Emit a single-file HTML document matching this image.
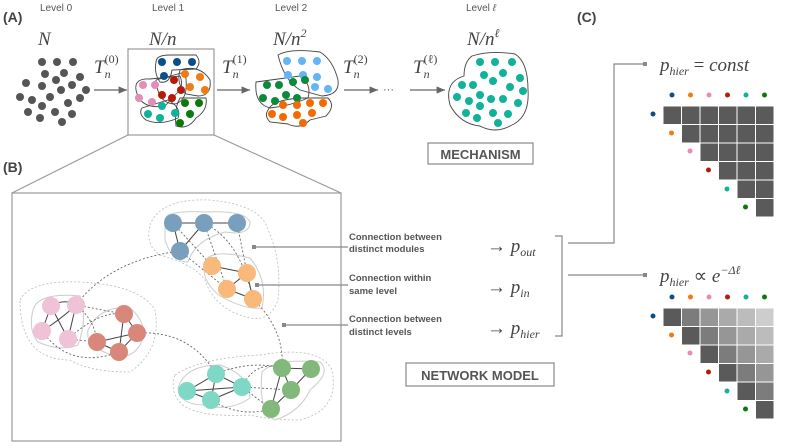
<!DOCTYPE html>
<html><head><meta charset="utf-8"><style>
html,body{margin:0;padding:0;background:#fff;}
svg{display:block;}
.lv{font-family:"Liberation Sans",sans-serif;font-size:10px;fill:#555;}
.hd{font-family:"Liberation Sans",sans-serif;font-size:14px;font-weight:bold;fill:#444;}
.m{font-family:"Liberation Serif",serif;font-style:italic;fill:#444;}
.lb{font-family:"Liberation Sans",sans-serif;font-size:9.5px;font-weight:bold;fill:#555;}
.bx{font-family:"Liberation Sans",sans-serif;font-size:13px;font-weight:bold;fill:#555;}
</style></head><body>
<svg width="793" height="446" viewBox="0 0 793 446" xmlns="http://www.w3.org/2000/svg">
<defs><marker id="ar" markerWidth="8" markerHeight="8" refX="7" refY="4" orient="auto"><path d="M0,1 L7,4 L0,7z" fill="#666"/></marker></defs>
<text x="3" y="22" class="hd">(A)</text>
<text x="40" y="11" class="lv">Level 0</text>
<text x="152" y="11" class="lv">Level 1</text>
<text x="275" y="11" class="lv">Level 2</text>
<text x="466" y="11" class="lv">Level <tspan font-style="italic">ℓ</tspan></text>
<text x="38" y="45" class="m" font-size="19">N</text>
<text x="149" y="45" class="m" font-size="19">N/n</text>
<text x="273" y="45" class="m" font-size="19">N/n<tspan dy="-8" font-size="12">2</tspan></text>
<text x="467" y="45" class="m" font-size="19">N/n<tspan dy="-8" font-size="12">ℓ</tspan></text>
<g class="m" font-size="19">
<text x="94" y="73">T<tspan dy="5" font-size="12">n</tspan><tspan dx="-6" dy="-15" font-size="12" font-style="normal">(0)</tspan></text>
<text x="222" y="73">T<tspan dy="5" font-size="12">n</tspan><tspan dx="-6" dy="-15" font-size="12" font-style="normal">(1)</tspan></text>
<text x="343" y="73">T<tspan dy="5" font-size="12">n</tspan><tspan dx="-6" dy="-15" font-size="12" font-style="normal">(2)</tspan></text>
<text x="413" y="73">T<tspan dy="5" font-size="12">n</tspan><tspan dx="-6" dy="-15" font-size="12" font-style="normal">(ℓ)</tspan></text>
</g>
<g fill="#555">
<circle cx="42" cy="62" r="4"/><circle cx="57" cy="62" r="4"/><circle cx="73" cy="62" r="4"/>
<circle cx="45" cy="74" r="4"/><circle cx="64" cy="73" r="4"/><circle cx="80" cy="77" r="4"/>
<circle cx="56" cy="80" r="4"/><circle cx="72" cy="85" r="4"/><circle cx="86" cy="90" r="4"/>
<circle cx="26" cy="83" r="4"/><circle cx="42" cy="86" r="4"/><circle cx="61" cy="90" r="4"/>
<circle cx="20" cy="97" r="4"/><circle cx="32" cy="100" r="4"/><circle cx="50" cy="97" r="4"/>
<circle cx="68" cy="103" r="4"/><circle cx="80" cy="98" r="4"/><circle cx="42" cy="106" r="4"/>
<circle cx="28" cy="112" r="4"/><circle cx="55" cy="112" r="4"/><circle cx="40" cy="118" r="4"/>
<circle cx="72" cy="114" r="4"/><circle cx="62" cy="122" r="4"/>
</g>
<line x1="94" y1="90" x2="127" y2="90" stroke="#666" stroke-width="1.2" marker-end="url(#ar)"/>
<line x1="217" y1="90" x2="250" y2="90" stroke="#666" stroke-width="1.2" marker-end="url(#ar)"/>
<line x1="344" y1="90" x2="378" y2="90" stroke="#666" stroke-width="1.2" marker-end="url(#ar)"/>
<text x="383" y="93" font-family="Liberation Sans" font-size="11" fill="#555">···</text>
<line x1="410" y1="90" x2="445" y2="90" stroke="#666" stroke-width="1.2" marker-end="url(#ar)"/>
<rect x="128" y="49" width="86" height="86" fill="none" stroke="#999" stroke-width="1.2"/>
<g fill="none" stroke="#444" stroke-width="0.9">
<path d="M156,62 Q156,55 170,55 L196,55 Q202,62 196,69 L172,70 Q170,84 160,82 Q154,74 156,62z"/>
<path d="M136,90 Q134,78 150,79 L180,76 Q184,86 178,92 L165,106 Q140,110 136,90z"/>
<path d="M180,70 Q200,64 210,80 Q212,96 198,96 L186,94 Q176,84 180,70z"/>
<path d="M156,80 L185,72 Q190,100 175,104 Q158,104 156,80z"/>
<path d="M142,108 L168,100 Q182,108 178,118 Q160,126 146,120 Q138,114 142,108z"/>
<path d="M180,98 L206,98 Q208,110 196,118 Q188,130 176,126 Q174,108 180,98z"/>
</g>
<g>
<circle cx="162" cy="62" r="4" fill="#0b4f8a"/><circle cx="177" cy="62" r="4" fill="#0b4f8a"/><circle cx="192" cy="62" r="4" fill="#0b4f8a"/><circle cx="164" cy="76" r="4" fill="#0b4f8a"/>
<circle cx="185" cy="74" r="4" fill="#f07b12"/><circle cx="200" cy="77" r="4" fill="#f07b12"/><circle cx="190" cy="87" r="4" fill="#f07b12"/><circle cx="205" cy="90" r="4" fill="#f07b12"/>
<circle cx="143" cy="85" r="4" fill="#e58cb8"/><circle cx="155" cy="85" r="4" fill="#e58cb8"/><circle cx="139" cy="98" r="4" fill="#e58cb8"/><circle cx="152" cy="102" r="4" fill="#e58cb8"/>
<circle cx="174" cy="80" r="4" fill="#b81a0a"/><circle cx="181" cy="90" r="4" fill="#b81a0a"/><circle cx="162" cy="95" r="4" fill="#b81a0a"/><circle cx="172" cy="98" r="4" fill="#b81a0a"/>
<circle cx="162" cy="106" r="4" fill="#10b39a"/><circle cx="148" cy="114" r="4" fill="#10b39a"/><circle cx="160" cy="118" r="4" fill="#10b39a"/><circle cx="175" cy="113" r="4" fill="#10b39a"/>
<circle cx="185" cy="103" r="4" fill="#0a7a0a"/><circle cx="199" cy="103" r="4" fill="#0a7a0a"/><circle cx="190" cy="114" r="4" fill="#0a7a0a"/><circle cx="180" cy="123" r="4" fill="#0a7a0a"/>
</g>
<g fill="none" stroke="#444" stroke-width="0.9">
<path d="M278,55 Q290,48 320,52 Q333,60 338,80 Q340,95 322,96 L300,90 Q284,80 278,55z"/>
<path d="M256,82 L300,76 Q312,84 308,98 Q290,106 270,108 Q254,104 256,82z"/>
<path d="M268,110 Q272,100 300,98 L328,98 Q336,106 326,116 L310,120 Q300,130 288,124 L270,122 Q264,116 268,110z"/>
</g>
<g fill="#64b5f6">
<circle cx="287" cy="61" r="4"/><circle cx="302" cy="61" r="4"/><circle cx="317" cy="61" r="4"/><circle cx="288" cy="75" r="4"/><circle cx="303" cy="75" r="4"/><circle cx="317" cy="77" r="4"/><circle cx="315" cy="87" r="4"/><circle cx="328" cy="89" r="4"/>
</g>
<g fill="#0a8a3a">
<circle cx="267" cy="85" r="4"/><circle cx="279" cy="85" r="4"/><circle cx="293" cy="82" r="4"/><circle cx="305" cy="80" r="4"/><circle cx="263" cy="98" r="4"/><circle cx="275" cy="101" r="4"/><circle cx="286" cy="95" r="4"/><circle cx="297" cy="98" r="4"/>
</g>
<g fill="#f56a00">
<circle cx="283" cy="105" r="4"/><circle cx="297" cy="105" r="4"/><circle cx="310" cy="103" r="4"/><circle cx="323" cy="103" r="4"/><circle cx="272" cy="114" r="4"/><circle cx="283" cy="117" r="4"/><circle cx="297" cy="115" r="4"/><circle cx="312" cy="113" r="4"/><circle cx="303" cy="123" r="4"/>
</g>
<path d="M472,56 Q490,50 515,54 Q528,62 528,90 Q530,118 510,126 Q495,134 480,126 Q460,124 450,105 Q444,82 464,76 Q464,62 472,56z" fill="none" stroke="#444" stroke-width="0.9"/>
<g fill="#10b39a">
<circle cx="480" cy="62" r="4"/><circle cx="495" cy="62" r="4"/><circle cx="512" cy="62" r="4"/><circle cx="484" cy="75" r="4"/><circle cx="503" cy="73" r="4"/><circle cx="520" cy="78" r="4"/><circle cx="462" cy="85" r="4"/><circle cx="473" cy="85" r="4"/><circle cx="493" cy="81" r="4"/><circle cx="510" cy="87" r="4"/><circle cx="523" cy="91" r="4"/><circle cx="457" cy="97" r="4"/><circle cx="469" cy="101" r="4"/><circle cx="480" cy="95" r="4"/><circle cx="491" cy="99" r="4"/><circle cx="503" cy="99" r="4"/><circle cx="518" cy="103" r="4"/><circle cx="466" cy="113" r="4"/><circle cx="480" cy="106" r="4"/><circle cx="493" cy="113" r="4"/><circle cx="508" cy="114" r="4"/><circle cx="477" cy="118" r="4"/><circle cx="498" cy="123" r="4"/>
</g>
<rect x="428" y="143" width="105" height="21" fill="none" stroke="#888" stroke-width="1.2"/>
<text x="480.5" y="159" text-anchor="middle" class="bx">MECHANISM</text>
<text x="3" y="172" class="hd">(B)</text>
<line x1="128" y1="135" x2="12" y2="193" stroke="#999" stroke-width="1.2"/>
<line x1="214" y1="135" x2="341" y2="193" stroke="#999" stroke-width="1.2"/>
<rect x="12" y="193" width="329" height="248" fill="none" stroke="#999" stroke-width="1.2"/>
<g fill="none" stroke="#bbb" stroke-width="0.8" stroke-dasharray="2,2">
<path d="M150,225 Q160,198 210,200 Q262,205 268,230 Q282,260 278,300 Q270,322 250,318 Q215,310 205,280 Q195,265 160,255 Q145,245 150,225z"/>
<path d="M20,300 Q30,280 80,282 Q140,285 155,310 Q162,350 130,372 Q90,372 70,360 Q20,360 20,300z"/>
<path d="M175,375 Q200,358 260,355 Q320,345 332,370 Q340,410 300,420 Q270,420 250,415 Q190,418 178,400 Q170,388 175,375z"/>
</g>
<g fill="none" stroke="#ccc" stroke-width="1">
<path d="M165,220 Q165,210 205,212 Q245,210 250,222 Q250,236 225,232 Q195,240 188,262 Q172,262 165,240z"/>
<path d="M205,262 Q210,248 250,258 Q268,280 262,308 Q245,310 220,296 Q200,280 205,262z"/>
<path d="M33,310 Q38,292 80,296 Q88,318 78,345 Q60,352 38,342 Q28,330 33,310z"/>
<path d="M88,330 Q100,305 130,308 Q150,325 140,345 Q128,365 100,350 Q86,345 88,330z"/>
<path d="M178,388 Q185,365 220,365 Q250,375 250,398 Q230,412 205,405 Q180,405 178,388z"/>
<path d="M262,372 Q275,358 320,362 Q332,372 310,390 Q300,412 275,420 Q258,412 262,372z"/>
</g>
<g fill="none" stroke="#666" stroke-width="0.9" stroke-dasharray="2,2">
<path d="M180,251 Q110,260 76,305"/>
<path d="M204,223 L227,289"/><path d="M173,223 L212,266"/><path d="M237,223 L247,273"/><path d="M204,223 Q240,240 253,299"/><path d="M180,251 L227,289"/>
<path d="M253,299 Q285,330 282,368"/>
<path d="M76,305 L124,314"/><path d="M68,339 L97,342"/><path d="M76,305 Q95,320 97,342"/><path d="M68,339 Q100,310 124,314"/><path d="M42,331 Q70,370 119,352"/>
<path d="M137,333 Q190,330 216,374"/>
<path d="M216,374 Q250,360 282,368"/><path d="M242,387 L291,390"/><path d="M211,400 Q240,418 271,409"/><path d="M242,387 Q255,360 282,368"/><path d="M242,387 L271,409"/>
</g>
<g fill="none" stroke="#444" stroke-width="1">
<path d="M173,223 L237,223"/><path d="M173,223 L180,251"/><path d="M204,223 L180,251"/>
<path d="M212,266 L247,273"/><path d="M247,273 L227,289"/><path d="M227,289 L253,299"/><path d="M247,273 L253,299"/>
<path d="M51,306 Q65,298 76,305"/><path d="M51,306 L42,331"/><path d="M76,305 L68,339"/><path d="M42,331 Q60,320 76,305"/><path d="M51,306 L68,339"/>
<path d="M124,314 L137,333"/><path d="M124,314 L119,352"/><path d="M97,342 L137,333"/><path d="M97,342 L119,352"/><path d="M137,333 L119,352"/>
<path d="M216,374 L187,391"/><path d="M216,374 L242,387"/><path d="M216,374 L211,400"/><path d="M187,391 L242,387"/><path d="M211,400 L242,387"/><path d="M187,391 L211,400"/>
<path d="M282,368 L311,369"/><path d="M282,368 L291,390"/><path d="M311,369 L291,390"/><path d="M291,390 L271,409"/><path d="M282,368 L271,409"/>
</g>
<g>
<circle cx="173" cy="223" r="9" fill="#789fbb"/><circle cx="204" cy="223" r="9" fill="#789fbb"/><circle cx="237" cy="223" r="9" fill="#789fbb"/><circle cx="180" cy="251" r="9" fill="#789fbb"/>
<circle cx="212" cy="266" r="9" fill="#f8b97a"/><circle cx="247" cy="273" r="9" fill="#f8b97a"/><circle cx="227" cy="289" r="9" fill="#f8b97a"/><circle cx="253" cy="299" r="9" fill="#f8b97a"/>
<circle cx="51" cy="306" r="9" fill="#efc2d8"/><circle cx="76" cy="305" r="9" fill="#efc2d8"/><circle cx="42" cy="331" r="9" fill="#efc2d8"/><circle cx="68" cy="339" r="9" fill="#efc2d8"/>
<circle cx="124" cy="314" r="9" fill="#d9877a"/><circle cx="137" cy="333" r="9" fill="#d9877a"/><circle cx="97" cy="342" r="9" fill="#d9877a"/><circle cx="119" cy="352" r="9" fill="#d9877a"/>
<circle cx="216" cy="374" r="9" fill="#7fd8c6"/><circle cx="187" cy="391" r="9" fill="#7fd8c6"/><circle cx="242" cy="387" r="9" fill="#7fd8c6"/><circle cx="211" cy="400" r="9" fill="#7fd8c6"/>
<circle cx="282" cy="368" r="9" fill="#82b87c"/><circle cx="311" cy="369" r="9" fill="#82b87c"/><circle cx="291" cy="390" r="9" fill="#82b87c"/><circle cx="271" cy="409" r="9" fill="#82b87c"/>
</g>
<g stroke="#888" stroke-width="1.2">
<line x1="254" y1="247" x2="348" y2="247"/><line x1="257" y1="285" x2="348" y2="285"/><line x1="284" y1="325" x2="348" y2="325"/>
</g>
<g fill="#888"><rect x="252" y="245" width="4" height="4"/><rect x="255" y="283" width="4" height="4"/><rect x="282" y="323" width="4" height="4"/></g>
<text x="349" y="240" class="lb">Connection between</text><text x="349" y="252" class="lb">distinct modules</text>
<text x="349" y="281" class="lb">Connection within</text><text x="349" y="294" class="lb">same level</text>
<text x="349" y="322" class="lb">Connection between</text><text x="349" y="335" class="lb">distinct levels</text>
<g class="m" font-size="19">
<text x="487" y="252"><tspan font-style="normal">→ </tspan>p<tspan dy="4" font-size="12">out</tspan></text>
<text x="487" y="293"><tspan font-style="normal">→ </tspan>p<tspan dy="4" font-size="12">in</tspan></text>
<text x="487" y="334"><tspan font-style="normal">→ </tspan>p<tspan dy="4" font-size="12">hier</tspan></text>
</g>
<path d="M555,236 H562 V336 H555" fill="none" stroke="#888" stroke-width="1.2"/>
<path d="M568,243 H614 V64 H645" fill="none" stroke="#888" stroke-width="1.2"/>
<path d="M568,275 H645" fill="none" stroke="#888" stroke-width="1.2"/>
<rect x="643" y="62" width="4" height="4" fill="#888"/><rect x="643" y="273" width="4" height="4" fill="#888"/>
<rect x="406" y="363" width="148" height="23" fill="none" stroke="#888" stroke-width="1.2"/>
<text x="480" y="380" text-anchor="middle" class="bx">NETWORK MODEL</text>
<text x="577" y="22" class="hd">(C)</text>
<text x="660" y="71" class="m" font-size="19">p<tspan dy="4" font-size="12">hier</tspan><tspan dy="-4" font-style="normal"> = </tspan>const</text>
<text x="660" y="282" class="m" font-size="19">p<tspan dy="4" font-size="12">hier</tspan><tspan dy="-4" font-style="normal"> ∝ </tspan>e<tspan dy="-8" font-size="12">−Δℓ</tspan></text>
<g id="dots">
<circle cx="672" cy="95" r="2.5" fill="#0b4f8a"/><circle cx="690.5" cy="95" r="2.5" fill="#f07b12"/><circle cx="709" cy="95" r="2.5" fill="#e58cb8"/><circle cx="727.5" cy="95" r="2.5" fill="#b81a0a"/><circle cx="746" cy="95" r="2.5" fill="#10b39a"/><circle cx="764.5" cy="95" r="2.5" fill="#0a7a0a"/>
<circle cx="653" cy="114" r="2.5" fill="#0b4f8a"/><circle cx="671.5" cy="133" r="2.5" fill="#f07b12"/><circle cx="690" cy="151" r="2.5" fill="#e58cb8"/><circle cx="708.5" cy="170" r="2.5" fill="#b81a0a"/><circle cx="727" cy="189" r="2.5" fill="#10b39a"/><circle cx="745.5" cy="207" r="2.5" fill="#0a7a0a"/>
</g>
<use href="#dots" y="202"/>
<g fill="#5a5a5a" stroke="#fff" stroke-width="1">
<rect x="663" y="106" width="18.5" height="18.5"/><rect x="681.5" y="106" width="18.5" height="18.5"/><rect x="700" y="106" width="18.5" height="18.5"/><rect x="718.5" y="106" width="18.5" height="18.5"/><rect x="737" y="106" width="18.5" height="18.5"/><rect x="755.5" y="106" width="18.5" height="18.5"/>
<rect x="681.5" y="124.5" width="18.5" height="18.5"/><rect x="700" y="124.5" width="18.5" height="18.5"/><rect x="718.5" y="124.5" width="18.5" height="18.5"/><rect x="737" y="124.5" width="18.5" height="18.5"/><rect x="755.5" y="124.5" width="18.5" height="18.5"/>
<rect x="700" y="143" width="18.5" height="18.5"/><rect x="718.5" y="143" width="18.5" height="18.5"/><rect x="737" y="143" width="18.5" height="18.5"/><rect x="755.5" y="143" width="18.5" height="18.5"/>
<rect x="718.5" y="161.5" width="18.5" height="18.5"/><rect x="737" y="161.5" width="18.5" height="18.5"/><rect x="755.5" y="161.5" width="18.5" height="18.5"/>
<rect x="737" y="180" width="18.5" height="18.5"/><rect x="755.5" y="180" width="18.5" height="18.5"/>
<rect x="755.5" y="198.5" width="18.5" height="18.5"/>
</g>
<g stroke="#fff" stroke-width="1">
<rect x="663" y="308" width="18.5" height="18.5" fill="#5a5a5a"/><rect x="681.5" y="308" width="18.5" height="18.5" fill="#7c7c7c"/><rect x="700" y="308" width="18.5" height="18.5" fill="#969696"/><rect x="718.5" y="308" width="18.5" height="18.5" fill="#aaa"/><rect x="737" y="308" width="18.5" height="18.5" fill="#bcbcbc"/><rect x="755.5" y="308" width="18.5" height="18.5" fill="#cdcdcd"/>
<rect x="681.5" y="326.5" width="18.5" height="18.5" fill="#5a5a5a"/><rect x="700" y="326.5" width="18.5" height="18.5" fill="#7c7c7c"/><rect x="718.5" y="326.5" width="18.5" height="18.5" fill="#969696"/><rect x="737" y="326.5" width="18.5" height="18.5" fill="#aaa"/><rect x="755.5" y="326.5" width="18.5" height="18.5" fill="#bcbcbc"/>
<rect x="700" y="345" width="18.5" height="18.5" fill="#5a5a5a"/><rect x="718.5" y="345" width="18.5" height="18.5" fill="#7c7c7c"/><rect x="737" y="345" width="18.5" height="18.5" fill="#969696"/><rect x="755.5" y="345" width="18.5" height="18.5" fill="#aaa"/>
<rect x="718.5" y="363.5" width="18.5" height="18.5" fill="#5a5a5a"/><rect x="737" y="363.5" width="18.5" height="18.5" fill="#7c7c7c"/><rect x="755.5" y="363.5" width="18.5" height="18.5" fill="#969696"/>
<rect x="737" y="382" width="18.5" height="18.5" fill="#5a5a5a"/><rect x="755.5" y="382" width="18.5" height="18.5" fill="#7c7c7c"/>
<rect x="755.5" y="400.5" width="18.5" height="18.5" fill="#5a5a5a"/>
</g>
</svg>
</body></html>
